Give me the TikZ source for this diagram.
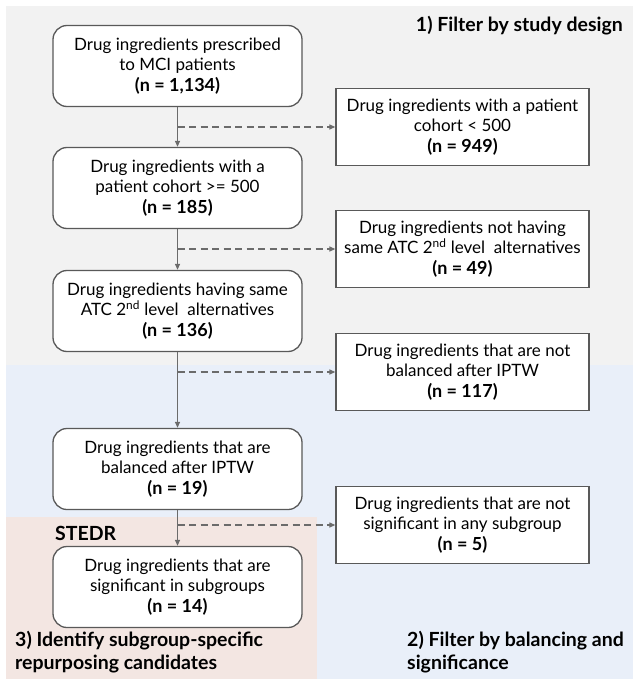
\documentclass[tikz,border=0pt]{standalone}
\usepackage{fontspec}
\setmainfont{Lato}
\usetikzlibrary{arrows.meta}
\definecolor{bggray}{HTML}{F2F2F2}
\definecolor{bgblue}{HTML}{E9EFF9}
\definecolor{bgpink}{HTML}{F3E6E2}
\definecolor{edgec}{HTML}{595959}
\definecolor{arrc}{HTML}{6B6B6B}
\newcommand{\nval}[1]{{\bfseries\fontsize{18}{20.7}\selectfont #1}}
\begin{document}
\begin{tikzpicture}[x=1pt,y=-1pt,
  boxtext/.style={align=center, inner sep=0pt, font=\fontsize{17}{20.7}\selectfont},
  rbox/.style={boxtext, draw=edgec, line width=1.3pt, fill=white, rounded corners=14pt, minimum width=249pt, minimum height=81pt},
  sbox/.style={boxtext, draw=edgec, line width=1.3pt, fill=white, minimum width=253pt, minimum height=77pt},
  flow/.style={draw=arrc, line width=1.2pt, -{Triangle[length=6pt,width=5pt]}},
  side/.style={draw=arrc, line width=1.2pt, dash pattern=on 7pt off 4.5pt, -{Triangle[length=6pt,width=5pt]}},
  lbl/.style={font=\bfseries\fontsize{19.5}{23}\selectfont, inner sep=0pt, align=left}
]
\useasboundingbox (0,0) rectangle (633,679);
\fill[bggray] (6,6) rectangle (633,365);
\fill[bgblue] (6,365) rectangle (633,679);
\fill[bgpink] (6,517) rectangle (317,679);

\node[lbl, anchor=east] (t1) at (623,26) {1) Filter by study design};
\node[lbl, anchor=west] (t4) at (55,533) {STEDR};
\node[lbl, anchor=north west] (t3) at (15,631) {3) Identify subgroup-specific\\repurposing candidates};
\node[lbl, anchor=north west] (t2) at (407,631) {2) Filter by balancing and\\significance};

\node[rbox] (b1) at (177.5,66) {Drug ingredients prescribed\\to MCI patients\\\nval{(n = 1,134)}};
\node[rbox] (b2) at (177.5,188) {Drug ingredients with a\\patient cohort >= 500\\\nval{(n = 185)}};
\node[rbox] (b3) at (177.5,311) {Drug ingredients having same\\ATC 2\textsuperscript{nd} level~ alternatives\\\nval{(n = 136)}};
\node[rbox] (b4) at (177.5,469) {Drug ingredients that are\\balanced after IPTW\\\nval{(n = 19)}};
\node[rbox] (b5) at (177.5,587) {Drug ingredients that are\\significant in subgroups\\\nval{(n = 14)}};

\node[sbox] (r1) at (462.5,127) {Drug ingredients with a patient\\cohort < 500\\\nval{(n = 949)}};
\node[sbox] (r2) at (462.5,249) {Drug ingredients not having\\same ATC 2\textsuperscript{nd} level~ alternatives\\\nval{(n = 49)}};
\node[sbox] (r3) at (462.5,372) {Drug ingredients that are not\\balanced after IPTW\\\nval{(n = 117)}};
\node[sbox] (r4) at (462.5,525) {Drug ingredients that are not\\significant in any subgroup\\\nval{(n = 5)}};

\draw[flow] (b1.south) -- (b2.north);
\draw[flow] (b2.south) -- (b3.north);
\draw[flow] (b3.south) -- (b4.north);
\draw[flow] (b4.south) -- (b5.north);

\draw[side] (b1.south |- r1.west) -- (r1.west);
\draw[side] (b2.south |- r2.west) -- (r2.west);
\draw[side] (b3.south |- r3.west) -- (r3.west);
\draw[side] (b4.south |- r4.west) -- (r4.west);
\end{tikzpicture}
\end{document}
